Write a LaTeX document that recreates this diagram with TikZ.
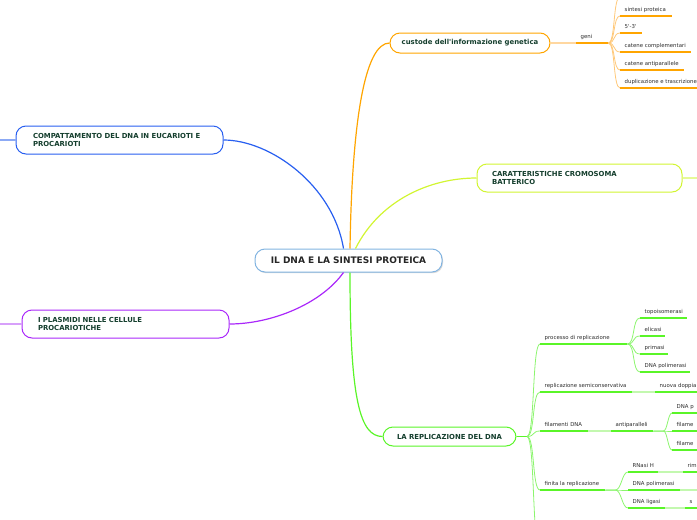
\documentclass[tikz,border=0pt]{standalone}
\usepackage{fontspec}
\setmainfont{DejaVu Sans}
\usetikzlibrary{shadows}
\definecolor{ctext}{RGB}{20,62,45}
\definecolor{ltext}{RGB}{45,45,45}
\definecolor{cborder}{RGB}{130,180,225}
\definecolor{cblue}{RGB}{40,95,240}
\definecolor{lblue}{RGB}{140,170,245}
\definecolor{corange}{RGB}{255,165,0}
\definecolor{forange}{RGB}{255,200,120}
\definecolor{lorange}{RGB}{255,215,160}
\definecolor{cyel}{RGB}{210,245,50}
\definecolor{lyel}{RGB}{230,250,150}
\definecolor{cpurp}{RGB}{170,40,250}
\definecolor{lpurp}{RGB}{215,160,250}
\definecolor{cgreen}{RGB}{90,245,40}
\definecolor{fgreen}{RGB}{140,245,110}
\definecolor{lgreen}{RGB}{195,248,175}
\newcommand\lf[2]{\makebox[#1pt][l]{#2}}
\newcommand\topicfont{\fontsize{6.9}{8}\selectfont\bfseries}
\newcommand\leaffont{\fontsize{5.4}{6}\selectfont}
\begin{document}
\begin{tikzpicture}[x=1pt,y=-1pt,
  topic/.style={draw, rounded corners=10pt, line width=1pt, fill=white, text=ctext, font=\topicfont, inner ysep=0pt},
  leaf/.style={anchor=south west, inner xsep=4.5pt, inner ysep=3pt, text height=4pt, text depth=1.2pt, font=\leaffont, text=ltext},
  main/.style={line width=1.2pt},
  ul/.style={line width=1.5pt},
  fan/.style={line width=0.8pt},
  link/.style={line width=1.2pt}]
\useasboundingbox (0,0) rectangle (697,520);
\clip (0,0) rectangle (697,520);

% central and branch topics
\node[topic, draw=cborder, text=black!85, minimum width=187pt, minimum height=23pt, inner xsep=0pt,
  font=\fontsize{9}{10}\selectfont\bfseries,
  drop shadow={shadow xshift=1pt, shadow yshift=-1.2pt, opacity=.3}] (c) at (348.5,260.5) {IL DNA E LA SINTESI PROTEICA};
\node[topic, draw=corange, minimum width=160pt, minimum height=20pt, inner xsep=0pt] (cus) at (470,43) {custode dell\textquotesingle informazione genetica};
\node[topic, draw=cyel, text width=175pt, inner xsep=15pt, minimum height=28pt, align=left] (car) at (579.5,178) {CARATTERISTICHE CROMOSOMA\\BATTERICO};
\node[topic, draw=cblue, text width=173pt, inner xsep=17pt, minimum height=28pt, align=left] (com) at (119.5,140) {COMPATTAMENTO DEL DNA IN EUCARIOTI E\\PROCARIOTI};
\node[topic, draw=cpurp, text width=175pt, inner xsep=16pt, minimum height=28pt, align=left] (pla) at (125.5,324) {I PLASMIDI NELLE CELLULE\\PROCARIOTICHE};
\node[topic, draw=cgreen, minimum width=133pt, minimum height=19pt, inner xsep=0pt] (rep) at (449.5,436.5) {LA REPLICAZIONE DEL DNA};

% main connectors
\draw[main, cblue] ([xshift=-5pt]c.north) .. controls (333,185) and (270,140) .. (com.east);
\draw[main, corange] ([xshift=1.5pt]c.north) .. controls (352,120) and (365,43) .. (cus.west);
\draw[main, cyel] ([xshift=7pt]c.north) .. controls (380,200) and (430,178) .. (car.west);
\draw[main, cpurp] ([xshift=-5pt]c.south) .. controls (320,305) and (270,324) .. (pla.east);
\draw[main, cgreen] ([xshift=1.5pt]c.south) .. controls (350,400) and (360,436.5) .. (rep.west);

% free ends off the picture
\coordinate (comL) at (-5,140);
\coordinate (plaL) at (-5,324);
\coordinate (carR) at (705,178);
\draw[link, lblue] (com.west) -- (comL);
\draw[link, lpurp] (pla.west) -- (plaL);
\draw[link, lyel] (car.east) -- (carR);

% orange subtree
\node[leaf] (geni) at (576,43) {\lf{23}{geni}};
\node[leaf] (o1) at (620,16) {\lf{43}{sintesi proteica}};
\node[leaf] (o2) at (620,33) {\lf{13}{5\textquotesingle-3\textquotesingle}};
\node[leaf] (o3) at (620,52) {\lf{62}{catene complementari}};
\node[leaf] (o4) at (620,70) {\lf{55}{catene antiparallele}};
\node[leaf] (o5) at (620,88) {\lf{71}{duplicazione e trascrizione}};
\coordinate (o0) at (620,-3);
\draw[link, lorange] (cus.east) -- (geni.south west);
\draw[fan, forange] (geni.south east) .. controls +(7,0) and +(-7,0) .. (o0);
\foreach \n in {o1,o2,o3,o4,o5}{\draw[fan, forange] (geni.south east) .. controls +(7,0) and +(-7,0) .. (\n.south west);}
\foreach \n in {geni,o1,o2,o3,o4,o5}{\draw[ul, corange] (\n.south west) -- (\n.south east);}

% green subtree
\coordinate (repfan) at (527,436.5);
\draw[link, cgreen] (rep.east) -- (repfan);
\node[leaf] (g1) at (540,344) {\lf{78}{processo di replicazione}};
\node[leaf] (g2) at (540,392) {\lf{83}{replicazione semiconservativa}};
\node[leaf] (g3) at (540,431) {\lf{39}{filamenti DNA}};
\node[leaf] (g4) at (540,490) {\lf{56}{finita la replicazione}};
\coordinate (g5) at (540,550);
\foreach \n in {g1,g2,g3,g4}{\draw[fan, fgreen] (repfan) .. controls +(8,0) and +(-8,0) .. (\n.south west);}
\draw[fan, fgreen] (repfan) .. controls +(8,0) and +(-8,0) .. (g5);

\node[leaf] (p1) at (640,318) {\lf{38}{topoisomerasi}};
\node[leaf] (p2) at (640,336) {\lf{16}{elicasi}};
\node[leaf] (p3) at (640,354) {\lf{19}{primasi}};
\node[leaf] (p4) at (640,372) {\lf{41}{DNA polimerasi}};
\foreach \n in {p1,p2,p3,p4}{\draw[fan, fgreen] (g1.south east) .. controls +(8,0) and +(-8,0) .. (\n.south west);}

\node[leaf] (s1) at (655,392) {\lf{56}{nuova doppia}};
\draw[link, lgreen] (g2.south east) -- (s1.south west);

\node[leaf] (a1) at (611,431) {\lf{33}{antiparalleli}};
\draw[link, lgreen] (g3.south east) -- (a1.south west);
\node[leaf] (a2) at (672,413) {\lf{39}{DNA p}};
\node[leaf] (a3) at (672,431) {\lf{39}{filame}};
\node[leaf] (a4) at (672,450) {\lf{39}{filame}};
\foreach \n in {a2,a3,a4}{\draw[fan, fgreen] (a1.south east) -- ++(10,0) .. controls +(4,0) and +(-4,0) .. (\n.south west);}

\node[leaf] (f1) at (628,472) {\lf{21}{RNasi H}};
\node[leaf] (f2) at (628,490) {\lf{43}{DNA polimerasi}};
\node[leaf] (f3) at (628,508) {\lf{28}{DNA ligasi}};
\foreach \n in {f1,f2,f3}{\draw[fan, fgreen] (g4.south east) -- ++(10,0) .. controls +(6,0) and +(-6,0) .. (\n.south west);}
\node[leaf] (r1) at (683,472) {\lf{40}{rim}};
\node[leaf] (r3) at (685,508) {\lf{40}{s}};
\coordinate (r2) at (705,490);
\draw[link, lgreen] (f1.south east) -- (r1.south west);
\draw[link, lgreen] (f2.south east) -- (r2);
\draw[link, lgreen] (f3.south east) -- (r3.south west);

\foreach \n in {g1,g2,g3,g4,p1,p2,p3,p4,s1,a1,a2,a3,a4,f1,f2,f3,r1,r3}{\draw[ul, cgreen] (\n.south west) -- (\n.south east);}
\end{tikzpicture}
\end{document}
